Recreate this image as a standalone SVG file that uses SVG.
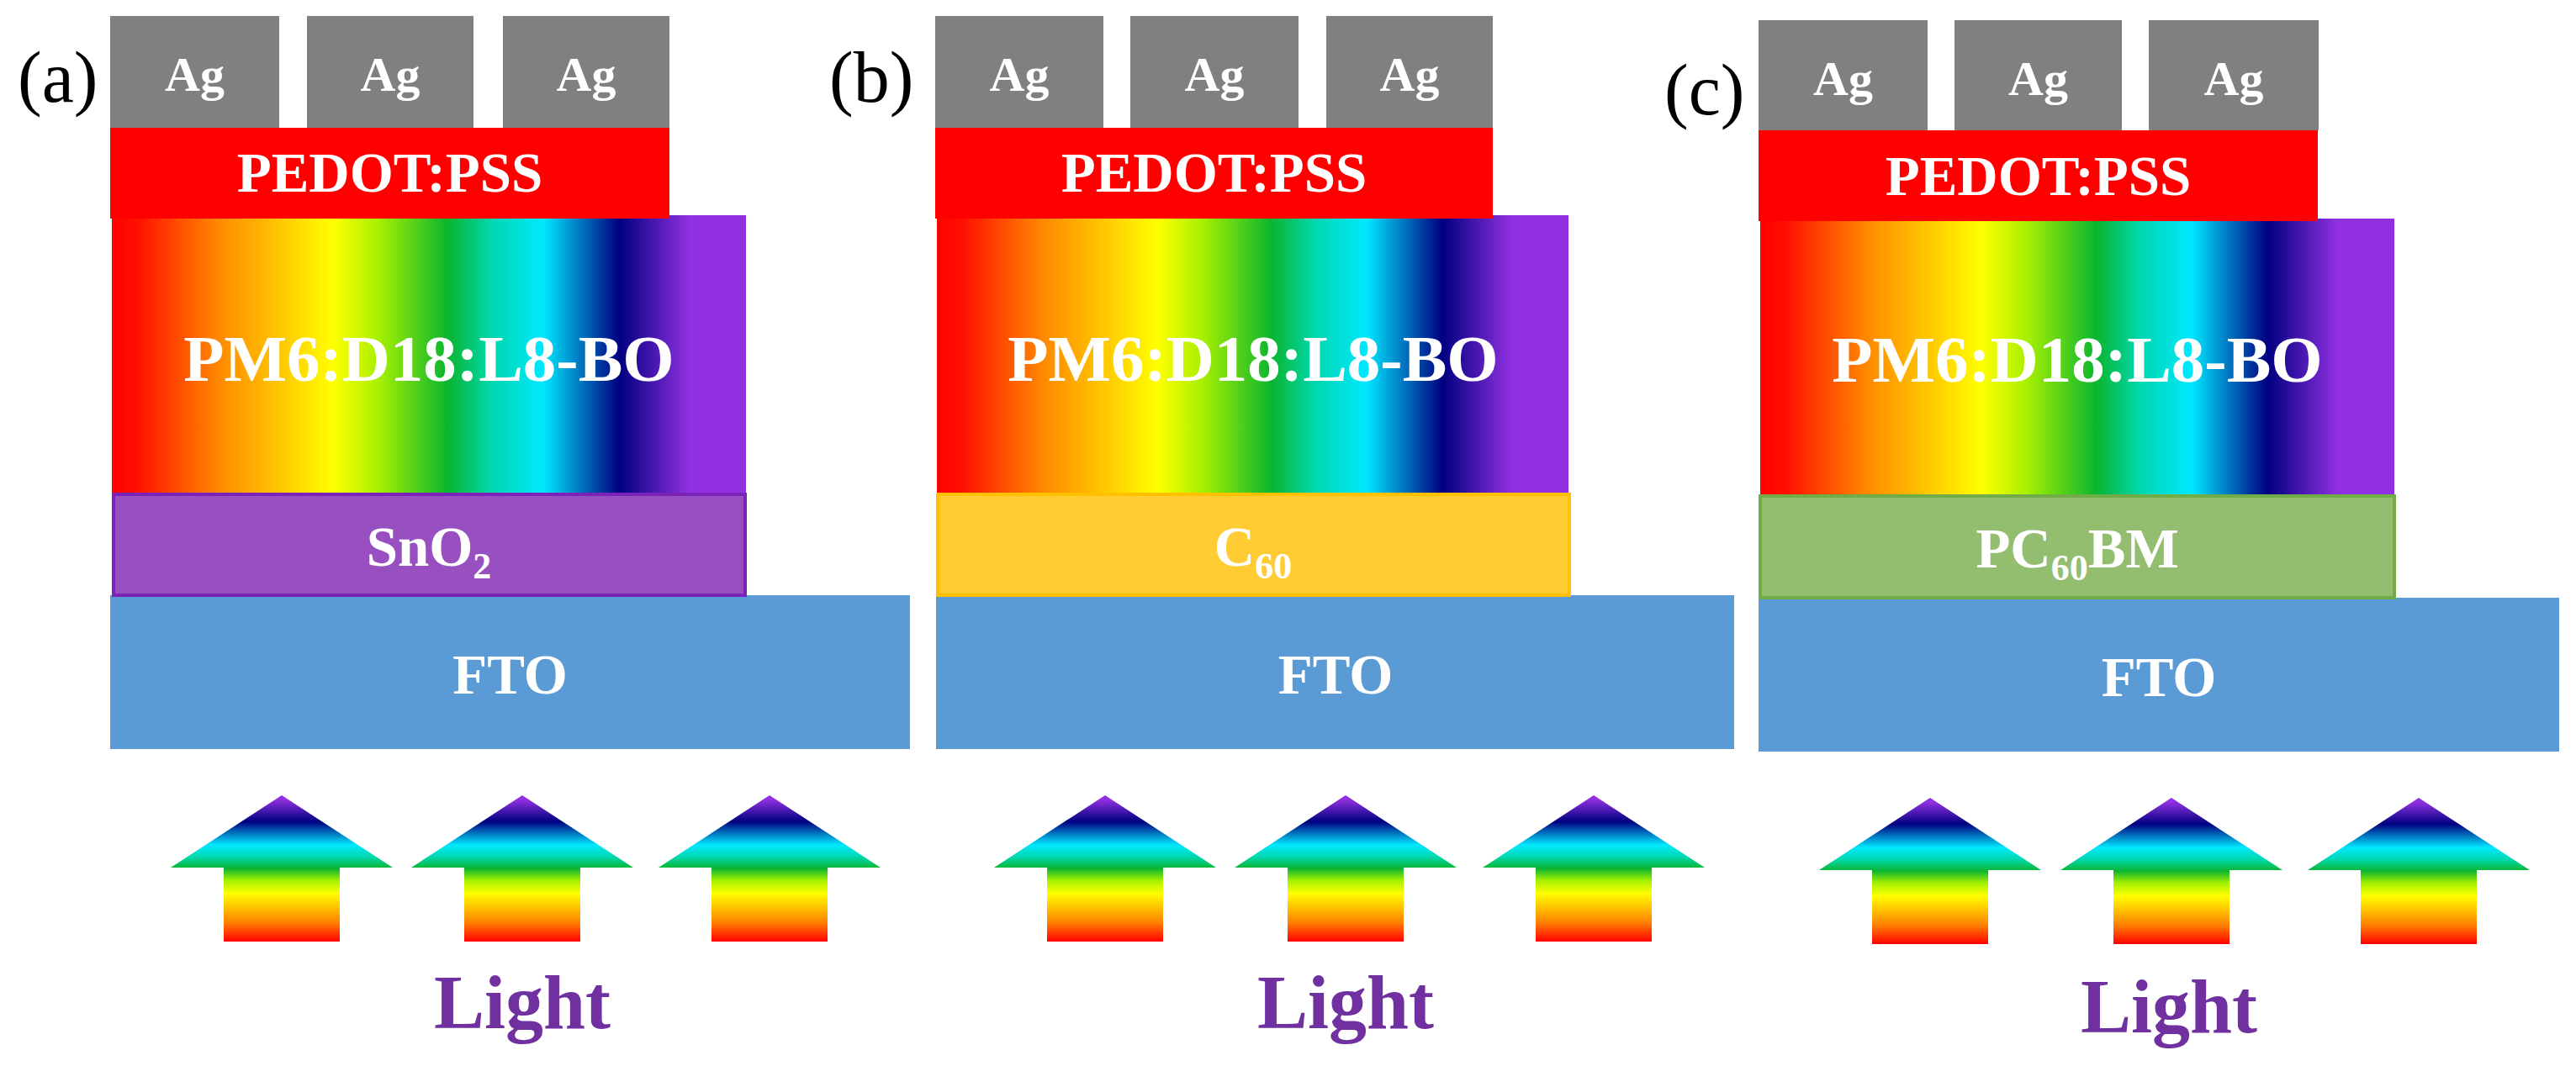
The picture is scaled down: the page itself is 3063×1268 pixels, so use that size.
<svg xmlns="http://www.w3.org/2000/svg" xmlns:xlink="http://www.w3.org/1999/xlink" width="3063" height="1268" viewBox="0 0 3063 1268">
  <defs>
    <style>
      .ag { fill: #808080; }
      .pedot { fill: #FF0000; }
      .active { fill: url(#rainbowH); }
      .fto { fill: #5B9BD5; }
      .sno2 { fill: #984FC0; stroke: #7B22B8; stroke-width: 4; }
      .c60 { fill: #FFCC33; stroke: #FFC000; stroke-width: 4; }
      .pcbm { fill: #93BD6F; stroke: #70AD47; stroke-width: 4; }
      .wt { fill: #FFFFFF; font-family: "Liberation Serif", "Times New Roman", serif; font-weight: bold; text-anchor: middle; }
      .agt { font-size: 58px; }
      .lt { font-size: 67px; }
      .at { font-size: 79px; }
      .sub { font-size: 44px; }
      .lab { fill: #000000; font-family: "Liberation Serif", "Times New Roman", serif; font-size: 86px; }
      .light { fill: #7030A0; font-family: "Liberation Serif", "Times New Roman", serif; font-weight: bold; font-size: 90px; text-anchor: middle; }
      .arrow { fill: url(#rainbowV); }
    </style>
    <linearGradient id="rainbowH" x1="0" y1="0" x2="1" y2="0">
      <stop offset="0" stop-color="#FF0000"/>
      <stop offset="0.04" stop-color="#FF1000"/>
      <stop offset="0.17" stop-color="#FF8A00"/>
      <stop offset="0.35" stop-color="#FFFF00"/>
      <stop offset="0.42" stop-color="#A8F000"/>
      <stop offset="0.53" stop-color="#0AB530"/>
      <stop offset="0.60" stop-color="#00D8B0"/>
      <stop offset="0.68" stop-color="#00E8FF"/>
      <stop offset="0.80" stop-color="#000080"/>
      <stop offset="0.91" stop-color="#9030E0"/>
      <stop offset="1" stop-color="#9030E0"/>
    </linearGradient>
    <linearGradient id="rainbowV" x1="0" y1="1" x2="0" y2="0">
      <stop offset="0" stop-color="#FF0000"/>
      <stop offset="0.13" stop-color="#FF8000"/>
      <stop offset="0.33" stop-color="#FFFF00"/>
      <stop offset="0.42" stop-color="#A0F000"/>
      <stop offset="0.50" stop-color="#0AB530"/>
      <stop offset="0.58" stop-color="#00D8B0"/>
      <stop offset="0.66" stop-color="#00E8FF"/>
      <stop offset="0.82" stop-color="#000080"/>
      <stop offset="0.97" stop-color="#9030E0"/>
      <stop offset="1" stop-color="#9030E0"/>
    </linearGradient>
    <polygon id="arrowShape" class="arrow" points="0,0 132,86 69,86 69,174 -69,174 -69,86 -132,86"/>
  </defs>

  <rect width="3063" height="1268" fill="#FFFFFF"/>

  <!-- Panel (a) -->
  <g id="panel-a">
    <text id="label-a" class="lab" x="21" y="121">(a)</text>
    <g id="a-ag1"><rect class="ag" x="131" y="19" width="201" height="133"/><text class="wt agt" x="231.5" y="108">Ag</text></g>
    <g id="a-ag2"><rect class="ag" x="365" y="19" width="198" height="133"/><text class="wt agt" x="464" y="108">Ag</text></g>
    <g id="a-ag3"><rect class="ag" x="598" y="19" width="198" height="133"/><text class="wt agt" x="697" y="108">Ag</text></g>
    <g id="a-active"><rect class="active" x="133" y="256" width="754" height="331"/><text class="wt at" x="510" y="453">PM6:D18:L8-BO</text></g>
    <g id="a-pedot"><rect class="pedot" x="131" y="152" width="665" height="108"/><text class="wt lt" x="463.5" y="228">PEDOT:PSS</text></g>
    <g id="a-fto"><rect class="fto" x="131" y="708" width="951" height="183"/><text class="wt lt" x="606.5" y="825">FTO</text></g>
    <g id="a-etl"><rect class="sno2" x="135" y="588" width="751" height="120"/><text class="wt lt" x="510" y="673">SnO<tspan class="sub" dy="15">2</tspan></text></g>
  </g>

  <!-- Panel (b) -->
  <g id="panel-b">
    <text id="label-b" class="lab" x="986" y="121">(b)</text>
    <g id="b-ag1"><rect class="ag" x="1112" y="19" width="200" height="133"/><text class="wt agt" x="1212" y="108">Ag</text></g>
    <g id="b-ag2"><rect class="ag" x="1344" y="19" width="200" height="133"/><text class="wt agt" x="1444" y="108">Ag</text></g>
    <g id="b-ag3"><rect class="ag" x="1577" y="19" width="198" height="133"/><text class="wt agt" x="1676" y="108">Ag</text></g>
    <g id="b-active"><rect class="active" x="1114" y="256" width="751" height="331"/><text class="wt at" x="1490" y="453">PM6:D18:L8-BO</text></g>
    <g id="b-pedot"><rect class="pedot" x="1112" y="152" width="663" height="108"/><text class="wt lt" x="1443.5" y="228">PEDOT:PSS</text></g>
    <g id="b-fto"><rect class="fto" x="1113" y="708" width="949" height="183"/><text class="wt lt" x="1588" y="825">FTO</text></g>
    <g id="b-etl"><rect class="c60" x="1115" y="588" width="751" height="120"/><text class="wt lt" x="1490" y="673">C<tspan class="sub" dy="15">60</tspan></text></g>
  </g>

  <!-- Panel (c) -->
  <g id="panel-c">
    <text id="label-c" class="lab" x="1979" y="136">(c)</text>
    <g id="c-ag1"><rect class="ag" x="2091" y="24" width="201" height="131"/><text class="wt agt" x="2191.5" y="113">Ag</text></g>
    <g id="c-ag2"><rect class="ag" x="2324" y="24" width="199" height="131"/><text class="wt agt" x="2423.5" y="113">Ag</text></g>
    <g id="c-ag3"><rect class="ag" x="2555" y="24" width="202" height="131"/><text class="wt agt" x="2656" y="113">Ag</text></g>
    <g id="c-active"><rect class="active" x="2093" y="260" width="754" height="330"/><text class="wt at" x="2470" y="454">PM6:D18:L8-BO</text></g>
    <g id="c-pedot"><rect class="pedot" x="2091" y="155" width="665" height="108"/><text class="wt lt" x="2423.5" y="232">PEDOT:PSS</text></g>
    <g id="c-fto"><rect class="fto" x="2091" y="711" width="952" height="183"/><text class="wt lt" x="2567" y="828">FTO</text></g>
    <g id="c-etl"><rect class="pcbm" x="2093" y="590" width="754" height="121"/><text class="wt lt" x="2470" y="675">PC<tspan class="sub" dy="15">60</tspan><tspan dy="-15">BM</tspan></text></g>
  </g>

  <!-- Light arrows (no connectors between nodes) -->
  <g id="connectors">
    <use xlink:href="#arrowShape" href="#arrowShape" x="335" y="946"/>
    <use xlink:href="#arrowShape" href="#arrowShape" x="621" y="946"/>
    <use xlink:href="#arrowShape" href="#arrowShape" x="915" y="946"/>
    <use xlink:href="#arrowShape" href="#arrowShape" x="1314" y="946"/>
    <use xlink:href="#arrowShape" href="#arrowShape" x="1600" y="946"/>
    <use xlink:href="#arrowShape" href="#arrowShape" x="1895" y="946"/>
    <use xlink:href="#arrowShape" href="#arrowShape" x="2295" y="949"/>
    <use xlink:href="#arrowShape" href="#arrowShape" x="2582" y="949"/>
    <use xlink:href="#arrowShape" href="#arrowShape" x="2876" y="949"/>
  </g>

  <g id="light-labels">
    <text class="light" x="621" y="1223">Light</text>
    <text class="light" x="1600" y="1223">Light</text>
    <text class="light" x="2579" y="1228">Light</text>
  </g>
</svg>
